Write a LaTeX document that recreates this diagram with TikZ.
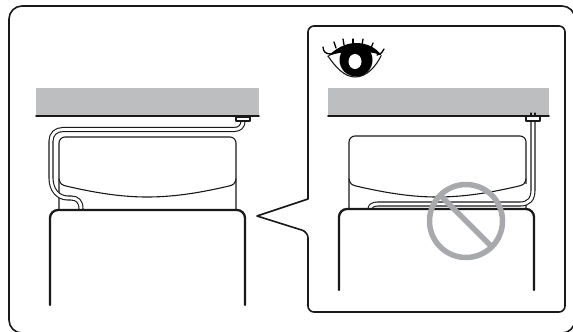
\documentclass[tikz,border=0pt]{standalone}
\begin{document}
\begin{tikzpicture}[line cap=round,line join=round,>=stealth,x=0.02cm,y=-0.02cm,
	frameline/.style={line width=0.032cm,black!90},
	lidline/.style={line width=0.022cm,black!90},
	boxline/.style={line width=0.046cm,black!90,rounded corners=0.16cm},
	cableline/.style={line width=0.022cm,black!90,double=white,double distance=0.058cm,line cap=butt},
	lashline/.style={line width=0.026cm,black},
	ceilingfill/.style={fill=ceilinggray},
	banline/.style={line width=0.11cm,color=bangray,line cap=butt}]
	\definecolor{ceilinggray}{HTML}{BCBEC0}
	\definecolor{bangray}{HTML}{A7A9AC}
	\useasboundingbox (0,0) rectangle (573,331);
	\fill[white] (0,0) rectangle (573,331);
	\clip (0,0) rectangle (573,331);
	\draw[frameline,rounded corners=0.26cm] (9,6) -- (575,6) -- (575,333) -- (9,333) -- cycle;
	\draw[frameline,fill=white,rounded corners=0.12cm] (308,199) -- (308,26) -- (565,26) -- (565,312) -- (308,312) -- (308,232) [sharp corners] -- (257,216) -- cycle;

	\fill[ceilingfill] (36,88) rectangle (259,116);
	\draw[frameline] (36,116)--(259,116);
	\draw[lidline,rounded corners=0.12cm] (59,209)--(59,137)--(236,137)--(236,209);
	\draw[lidline] (59,179) .. controls (60,184) and (62,185) .. (66,186) .. controls (100,194) and (125,197) .. (147,197) .. controls (170,197) and (195,194) .. (229,186) .. controls (233,185) and (235,184) .. (236,179);
	\draw[cableline] (243,121) .. controls (243,126) and (240,129.5) .. (234,129.5) -- (63,129.5) .. controls (56,129.5) and (51,134) .. (51,141) -- (51,178) .. controls (51,190) and (58,198) .. (68,198) -- (71,198) .. controls (77,198) and (81,201) .. (81,209);
	\draw[lidline,fill=white] (236,117) rectangle (250,121);
	\draw[boxline] (50,305)--(50,210)--(245,210)--(245,305);

	\fill[ceilingfill] (328,88) rectangle (549,116);
	\draw[lidline] (531,113)--(531,116) (535,113)--(535,116);
	\draw[frameline] (328,116)--(549,116);
	\draw[lidline,rounded corners=0.12cm] (349,209)--(349,136)--(526,136)--(526,209);
	\draw[lidline] (349,179) .. controls (350,184) and (352,185) .. (356,186) .. controls (390,194) and (415,197) .. (437,197) .. controls (460,197) and (485,194) .. (519,186) .. controls (523,185) and (525,184) .. (526,179);
	\fill[white] (524.5,184) rectangle (530,200);
	\draw[cableline] (533,121) -- (533,190) .. controls (533,199) and (529,204) .. (520,204) -- (378,204) .. controls (373,204) and (370,206) .. (370,209);
	\draw[lidline,fill=white] (526,116.5) rectangle (540,121);
	\draw[boxline] (339,290)--(339,209)--(534,209)--(534,290);

	\draw[banline] (466,221) circle (36.5);
	\draw[banline] (441,196)--(491,246);

	\draw[lidline] (328,56) .. controls (336,68) and (345,77) .. (355,77) .. controls (367,77) and (376,66) .. (381,56);
	\fill[black] (327,57) .. controls (336,48) and (346,43) .. (356,43) .. controls (366,43) and (376,47) .. (382,56) .. controls (374,50) and (338,50) .. (327,57) -- cycle;
	\fill[black] (356,60) circle (16.5);
	\fill[white] (355,61.5) ellipse (6.5 and 7.5);
	\draw[lashline] (331,54) .. controls (326,54) and (323,52) .. (323,47);
	\draw[lashline] (336,48) -- (334,42);
	\draw[lashline] (344,45) -- (343,39);
	\draw[lashline] (353,44) -- (353,39);
	\draw[lashline] (362,45) -- (363,39);
	\draw[lashline] (371,48) -- (373,43);
	\draw[lashline] (377,55) .. controls (381,54) and (383,52) .. (384,49);
\end{tikzpicture}
\end{document}
